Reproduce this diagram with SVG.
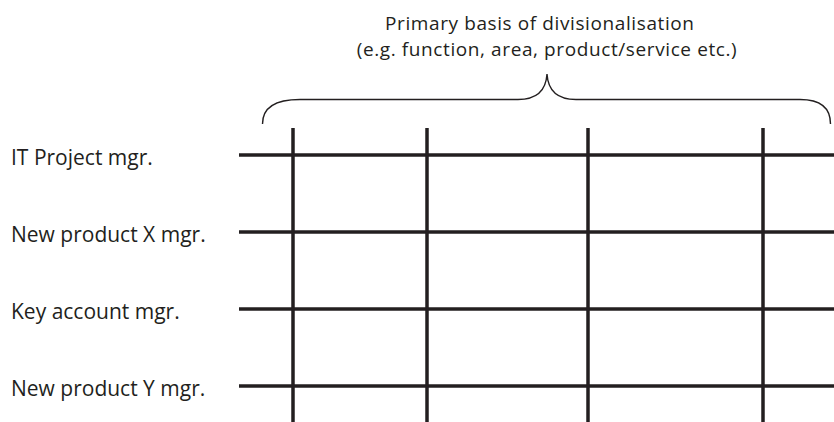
<svg xmlns="http://www.w3.org/2000/svg" width="834" height="422" viewBox="0 0 834 422">
<style>
.t{font-family:"Open Sans","Noto Sans",sans-serif;font-size:21px;fill:#231f20}
.h{font-family:"Open Sans","Noto Sans",sans-serif;font-size:19px;letter-spacing:0.6px;fill:#231f20}
.g{stroke:#231f20;stroke-width:3.5;fill:none}
.b{stroke:#231f20;stroke-width:1.4;fill:none}
</style>
<rect width="834" height="422" fill="#fff"/>
<g id="title">
<text class="h" x="385" y="29.5">Primary basis of divisionalisation</text>
<text class="h" x="547" y="55.5" text-anchor="middle">(e.g. function, area, product/service etc.)</text>
</g>
<g id="brace">
<path class="b" d="M262.5,124 C262.5,108 275,99.5 300,99.5 L518,99.5 C537,99.5 546,90 547,74 C548,90 557,99.5 576,99.5 L800,99.5 C820,99.5 830.5,108 830.5,124"/>
</g>
<g id="row-labels">
<g id="r1"><text class="t" x="11" y="165">IT Project mgr.</text></g>
<g id="r2"><text class="t" x="11" y="242">New product X mgr.</text></g>
<g id="r3"><text class="t" x="11" y="319">Key account mgr.</text></g>
<g id="r4"><text class="t" x="11" y="396">New product Y mgr.</text></g>
</g>
<g id="grid">
<line class="g" x1="239" y1="155" x2="834" y2="155"/>
<line class="g" x1="239" y1="232" x2="834" y2="232"/>
<line class="g" x1="239" y1="309" x2="834" y2="309"/>
<line class="g" x1="239" y1="386" x2="834" y2="386"/>
<line class="g" x1="293" y1="128" x2="293" y2="422"/>
<line class="g" x1="427" y1="128" x2="427" y2="422"/>
<line class="g" x1="588" y1="128" x2="588" y2="422"/>
<line class="g" x1="763" y1="128" x2="763" y2="422"/>
</g>
</svg>
